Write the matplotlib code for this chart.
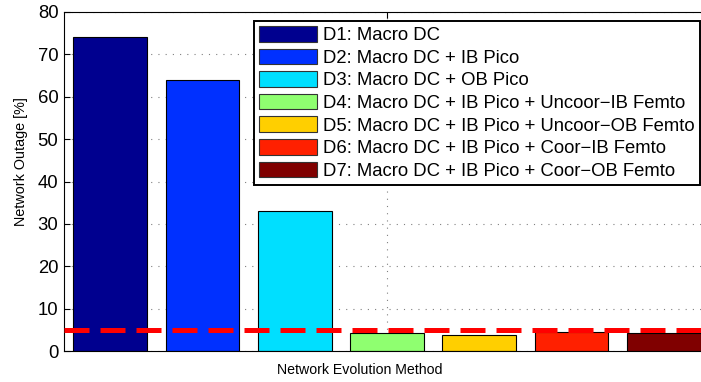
import numpy as np
import matplotlib
matplotlib.use('Agg')
import matplotlib.pyplot as plt

plt.rcParams['font.family'] = ['Liberation Sans', 'DejaVu Sans']

# data
labels = ["D1: Macro DC",
          "D2: Macro DC + IB Pico",
          "D3: Macro DC + OB Pico",
          "D4: Macro DC + IB Pico + Uncoor\u2212IB Femto",
          "D5: Macro DC + IB Pico + Uncoor\u2212OB Femto",
          "D6: Macro DC + IB Pico + Coor\u2212IB Femto",
          "D7: Macro DC + IB Pico + Coor\u2212OB Femto"]
outage = [74, 64, 33, 4.2, 3.8, 4.4, 4.2]
threshold = 5

# matlab jet colours picked for 7 series
colors = ['#00008F', '#0030FF', '#00DFFF', '#8FFF70', '#FFCF00', '#FF2000', '#800000']

W, H = 701, 382
fig = plt.figure(figsize=(W / 100, H / 100), dpi=100)
# axes runs a bit past the right edge of the figure, like the original
ax = fig.add_axes([64 / W, 1 - 351 / H, 646 / W, 339 / H])

x = np.arange(1, len(outage) + 1)
ax.bar(x, outage, width=0.8, color=colors, edgecolor='black', linewidth=0.8,
       label=labels, zorder=2)
ax.axhline(threshold, color='red', linewidth=3.6, linestyle=(0, (5, 2.2)), zorder=3)

ax.set_xlim(0.5, 7.5)
ax.set_ylim(0, 80)
ax.set_yticks(np.arange(0, 81, 10))
ax.set_xticks([4])
ax.set_xticklabels([''])
ax.tick_params(direction='in', length=4, top=True, right=True, labelsize=13.3, pad=4)
ax.grid(True, linestyle=(0, (1, 5.5)), color='gray', linewidth=0.8, zorder=0)
ax.set_axisbelow(True)
for s in ax.spines.values():
    s.set_linewidth(0.8)

ax.set_ylabel("Network Outage [%]", fontsize=10.4)
ax.yaxis.set_label_coords(-(64 - 28) / 646, (351 - 162) / 339)
ax.set_xlabel("Network Evolution Method", fontsize=10.2)
ax.xaxis.set_label_coords((360 - 64) / 646, -(363 - 351) / 339)

leg = ax.legend(loc='upper right', bbox_to_anchor=(700 / W, 1 - 20.5 / H),
                bbox_transform=fig.transFigure, fontsize=13.3, fancybox=False,
                edgecolor='black', framealpha=1, handlelength=3.1, handleheight=0.92,
                labelspacing=0.24, borderpad=0.3, handletextpad=0.33, borderaxespad=0)
leg.get_frame().set_linewidth(1.4)
for p in leg.get_patches():
    p.set_edgecolor('#333333')

plt.savefig('out.png', dpi=100)
